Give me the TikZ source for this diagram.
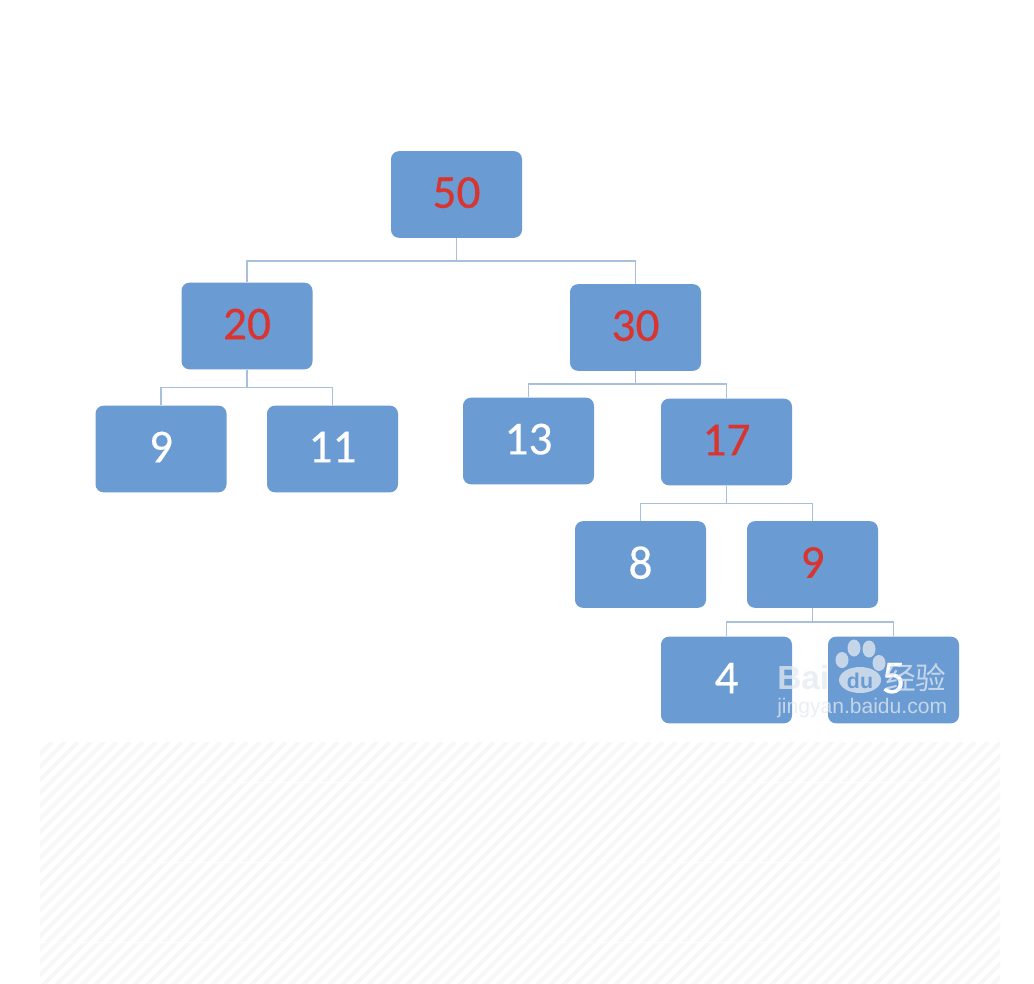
\documentclass[tikz,border=0pt]{standalone}
\usepackage{fontspec}
\setmainfont{Carlito}[FakeBold=0.25]
\newfontfamily\wmfont{Liberation Sans}
\newfontfamily\cjk{Noto Sans CJK SC}
\definecolor{boxblue}{HTML}{6A9BD2}
\definecolor{linkblue}{HTML}{A9C0DC}
\definecolor{numred}{HTML}{D9342E}
\definecolor{hatch}{HTML}{F7F7F7}
\definecolor{wmpale}{HTML}{E4EAF2}
\tikzset{
  tb/.style={fill=boxblue,rounded corners=6pt,minimum width=98.25pt,minimum height=65pt,inner sep=0pt,text=white,text depth=3pt,font=\fontsize{35.5}{36}\selectfont},
  hot/.style={tb,text=numred},
  link/.style={draw=linkblue,line width=1pt},
  wm/.style={text=wmpale,opacity=0.75,inner sep=0pt},
  pad/.style={fill=wmpale,opacity=0.75}
}
\begin{document}
\begin{tikzpicture}[x=0.75pt,y=-0.75pt]
\useasboundingbox (0,0) rectangle (1034,984);
\fill[white] (0,0) rectangle (1034,984);
% hatched band
\begin{scope}
\clip (40,742) rectangle (1000,984);
\foreach \i in {0,13,...,1300}{
  \draw[hatch,line width=3pt] (\i,742) -- (\i-260,1002);
}
\foreach \yy in {782,862,942}{
  \draw[white,line width=0.6pt,dash pattern=on 5pt off 5pt] (40,\yy) -- (1000,\yy);
}
\end{scope}
% nodes
\node[hot] (n50) at (456.5,194.5) {50};
\node[hot] (n20) at (247,326) {20};
\node[hot] (n30) at (635.5,327.5) {30};
\node[tb]  (n9a) at (161,449) {9};
\node[tb]  (n11) at (332.5,449) {11};
\node[tb]  (n13) at (528.5,441) {13};
\node[hot] (n17) at (726.5,442) {17};
\node[tb]  (n8)  at (640.5,564.5) {8};
\node[hot] (n9b) at (812.5,564.5) {9};
\node[tb]  (n4)  at (726.5,680) {4};
\node[tb]  (n5)  at (893.5,680) {5};
% connectors
\draw[link] (n50.south) -- ++(0,23) -| (n20.north);
\draw[link] (n50.south) -- ++(0,23) -| (n30.north);
\draw[link] (n20.south) -- ++(0,18) -| (n9a.north);
\draw[link] (n20.south) -- ++(0,18) -| (n11.north);
\draw[link] (n30.south) -- ++(0,13) -| (n13.north);
\draw[link] (n30.south) -- ++(0,13) -| (n17.north);
\draw[link] (n17.south) -- ++(0,18) -| (n8.north);
\draw[link] (n17.south) -- ++(0,18) -| (n9b.north);
\draw[link] (n9b.south) -- ++(0,14) -| (n4.north);
\draw[link] (n9b.south) -- ++(0,14) -| (n5.north);
% watermark
\node[wm,anchor=west,font=\wmfont\bfseries\fontsize{25}{25}\selectfont] (wmbai) at (777,678) {Bai};
\fill[pad] (842,660) ellipse (6.5 and 8);
\fill[pad] (854,648) ellipse (6.5 and 8.5);
\fill[pad] (869,649) ellipse (6.5 and 8.5);
\fill[pad] (879,663) ellipse (6.5 and 8);
\fill[pad] (860,680) ellipse (21 and 13);
\node[text=boxblue,inner sep=0pt,font=\wmfont\bfseries\fontsize{16}{16}\selectfont] (wmdu) at (860,681) {du};
\node[wm,anchor=west,font=\cjk\fontsize{23}{23}\selectfont] (wmjy) at (885,678) {经验};
\node[wm,anchor=west,font=\wmfont\fontsize{15.8}{16}\selectfont] (wmurl) at (777,708) {jingyan.baidu.com};
\end{tikzpicture}
\end{document}
